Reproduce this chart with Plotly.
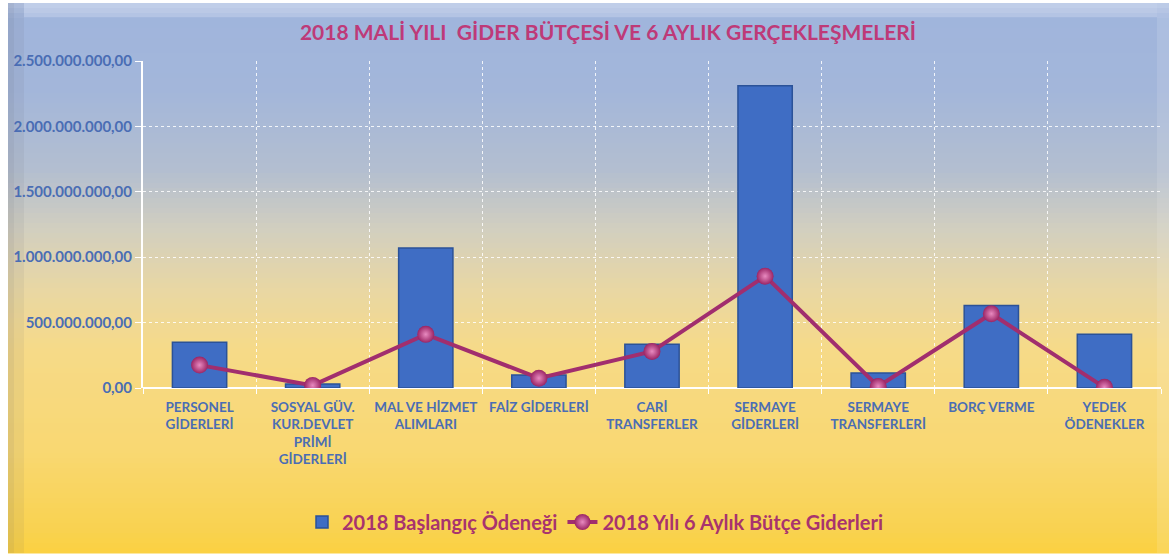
import plotly.graph_objects as go

categories = [
    "PERSONEL<br>GİDERLERİ",
    "SOSYAL GÜV.<br>KUR.DEVLET<br>PRİMİ<br>GİDERLERİ",
    "MAL VE HİZMET<br>ALIMLARI",
    "FAİZ GİDERLERİ",
    "CARİ<br>TRANSFERLER",
    "SERMAYE<br>GİDERLERİ",
    "SERMAYE<br>TRANSFERLERİ",
    "BORÇ VERME",
    "YEDEK<br>ÖDENEKLER",
]
baslangic_odenegi = [350e6, 30e6, 1070e6, 100e6, 335e6, 2310e6, 115e6, 630e6, 410e6]
alti_aylik_gider = [175e6, 20e6, 410e6, 75e6, 280e6, 855e6, 12e6, 568e6, 5e6]
y_tickvals = [0, 500e6, 1000e6, 1500e6, 2000e6, 2500e6]
y_ticktext = ["0,00", "500.000.000,00", "1.000.000.000,00", "1.500.000.000,00",
              "2.000.000.000,00", "2.500.000.000,00"]

W, H = 1171, 555
L, R, T, B = 143, 10, 61, 167
PW, PH = W - L - R, H - T - B


def px_x(x):
    return (x - L) / PW


def px_y(y):
    return (H - B - y) / PH


def hex2rgb(h):
    h = h.lstrip("#")
    return tuple(int(h[i:i + 2], 16) for i in (0, 2, 4))


stops = [
    (0, "#bccbe8"), (18, "#a0b5dc"), (90, "#a3b6da"), (170, "#b3bed0"),
    (230, "#d2cfbf"), (290, "#e9d7a3"), (350, "#f6da88"), (450, "#f9d872"),
    (530, "#f9d250"), (555, "#fbd140"),
]


def color_at(y):
    for (y0, c0), (y1, c1) in zip(stops[:-1], stops[1:]):
        if y0 <= y <= y1:
            t = (y - y0) / (y1 - y0) if y1 > y0 else 0
            a, b = hex2rgb(c0), hex2rgb(c1)
            return "rgb(%d,%d,%d)" % tuple(round(a[i] + (b[i] - a[i]) * t) for i in range(3))
    return stops[-1][1]


FX0, FX1, FY0, FY1 = 8, 1169, 3, 553
shapes = []
step = 5
for y in range(FY0, FY1, step):
    y2 = min(y + step, FY1)
    shapes.append(dict(
        type="rect", xref="paper", yref="paper", layer="below",
        x0=px_x(FX0), x1=px_x(FX1), y0=px_y(y2 + 0.5), y1=px_y(y),
        fillcolor=color_at((y + y2) / 2), line=dict(width=0)))
# bevels
shapes.append(dict(type="rect", xref="paper", yref="paper", layer="below",
                   x0=px_x(FX0), x1=px_x(FX0 + 16), y0=px_y(FY1), y1=px_y(FY0),
                   fillcolor="rgba(90,90,100,0.08)", line=dict(width=0)))
shapes.append(dict(type="rect", xref="paper", yref="paper", layer="below",
                   x0=px_x(FX0), x1=px_x(FX0 + 6), y0=px_y(FY1), y1=px_y(FY0),
                   fillcolor="rgba(90,90,100,0.08)", line=dict(width=0)))
shapes.append(dict(type="rect", xref="paper", yref="paper", layer="below",
                   x0=px_x(FX0 + 16), x1=px_x(FX1 - 12), y0=px_y(FY0 + 14), y1=px_y(FY0),
                   fillcolor="rgba(255,255,255,0.18)", line=dict(width=0)))
shapes.append(dict(type="rect", xref="paper", yref="paper", layer="below",
                   x0=px_x(FX1 - 12), x1=px_x(FX1), y0=px_y(FY1), y1=px_y(FY0),
                   fillcolor="rgba(255,255,255,0.12)", line=dict(width=0)))

fig = go.Figure()
fig.add_trace(go.Bar(
    x=categories, y=baslangic_odenegi, name="2018 Başlangıç Ödeneği",
    marker=dict(color="#3f6dc4", line=dict(color="#2b5298", width=1.5)),
))
fig.add_trace(go.Scatter(
    x=categories, y=alti_aylik_gider, name="2018 Yılı 6 Aylık Bütçe Giderleri",
    mode="lines+markers",
    line=dict(color="#a12e6e", width=4),
    marker=dict(size=17, color="#9a2464",
                gradient=dict(type="radial", color="#e88ac0"),
                line=dict(width=0)),
))

FONT = "Lato, Open Sans, sans-serif"
fig.update_layout(
    width=W, height=H,
    margin=dict(l=L, r=R, t=T, b=B),
    paper_bgcolor="white",
    plot_bgcolor="rgba(0,0,0,0)",
    shapes=shapes,
    bargap=0.52,
    separators=",.",
    title=dict(
        text="<b>2018 MALİ YILI  GİDER BÜTÇESİ VE 6 AYLIK GERÇEKLEŞMELERİ</b>",
        font=dict(family=FONT, size=21, color="#be3a78"),
        x=px_x(608), xref="paper", xanchor="center",
        y=1 - 33 / H, yref="container", yanchor="middle",
    ),
    xaxis=dict(
        type="category", tickson="boundaries", automargin=False,
        showgrid=True, gridcolor="rgba(255,255,255,0.85)", griddash="dot", gridwidth=1,
        showline=False, ticks="outside", ticklen=5, tickcolor="white",
        ticklabelstandoff=9,
        tickfont=dict(family=FONT, size=13.5, color="#4a6db4", weight="bold"),
        range=[-0.5, 8.5],
    ),
    yaxis=dict(
        range=[0, 2500e6], tickvals=y_tickvals, ticktext=y_ticktext, automargin=False,
        showgrid=True, gridcolor="rgba(255,255,255,0.85)", griddash="dot", gridwidth=1,
        zeroline=True, zerolinecolor="white", zerolinewidth=2,
        showline=True, linecolor="white", linewidth=2,
        ticks="outside", ticklen=6, tickcolor="white",
        tickfont=dict(family=FONT, size=15, color="#4a6db4", weight="bold"),
    ),
    legend=dict(
        orientation="h", x=px_x(595), xanchor="center", y=px_y(522), yanchor="middle",
        font=dict(family=FONT, size=20, color="#a8336e", weight="bold"),
        bgcolor="rgba(0,0,0,0)",
        traceorder="normal",
    ),
    showlegend=True,
)

fig.write_html("out.html", config={"displayModeBar": False},
               post_script="document.body.style.margin='0px';")
